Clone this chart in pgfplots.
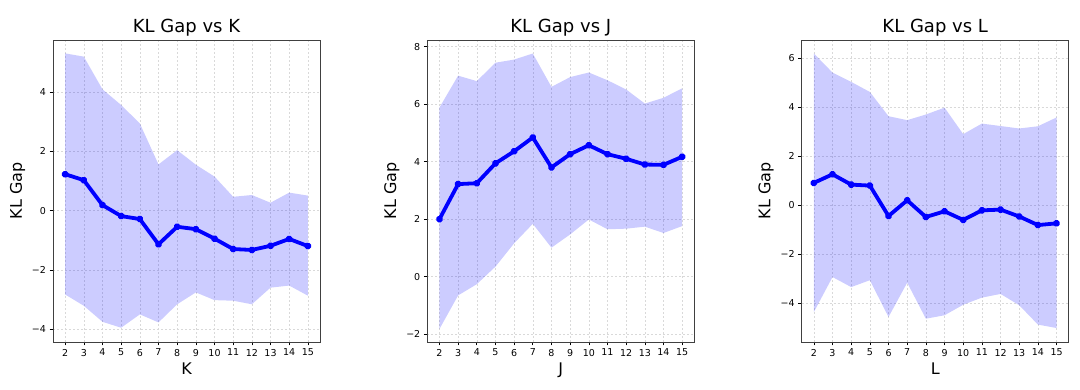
\documentclass[border=0pt]{standalone}
\usepackage{fontspec}
\setmainfont{DejaVu Sans}
\usepackage{pgfplots}
\usepackage{pgfplotstable}
\pgfplotsset{compat=1.18}
\usepgfplotslibrary{fillbetween}

\pgfplotstableread{
x mean up lo
2 1.23 5.30 -2.82
3 1.03 5.19 -3.20
4 0.19 4.09 -3.74
5 -0.18 3.56 -3.94
6 -0.28 2.94 -3.49
7 -1.13 1.56 -3.76
8 -0.54 2.04 -3.15
9 -0.62 1.55 -2.75
10 -0.94 1.15 -3.01
11 -1.29 0.47 -3.03
12 -1.32 0.53 -3.15
13 -1.18 0.27 -2.59
14 -0.95 0.61 -2.52
15 -1.19 0.51 -2.86
}\dataK

\pgfplotstableread{
x mean up lo
2 2.00 5.88 -1.82
3 3.22 6.99 -0.65
4 3.25 6.80 -0.26
5 3.94 7.44 0.35
6 4.36 7.55 1.16
7 4.84 7.76 1.84
8 3.80 6.60 1.01
9 4.26 6.94 1.47
10 4.57 7.10 1.99
11 4.26 6.83 1.65
12 4.10 6.51 1.67
13 3.90 6.02 1.74
14 3.89 6.22 1.52
15 4.17 6.55 1.76
}\dataJ

\pgfplotstableread{
x mean up lo
2 0.90 6.18 -4.37
3 1.25 5.40 -2.94
4 0.83 5.02 -3.35
5 0.79 4.61 -3.07
6 -0.45 3.62 -4.57
7 0.19 3.46 -3.17
8 -0.49 3.69 -4.64
9 -0.26 3.97 -4.50
10 -0.61 2.89 -4.07
11 -0.22 3.32 -3.78
12 -0.19 3.22 -3.63
13 -0.47 3.12 -4.09
14 -0.82 3.21 -4.88
15 -0.75 3.57 -5.02
}\dataL

\pgfplotsset{kl/.style={
  width=267pt, height=302pt, scale only axis,
  xmin=1.35, xmax=15.65, xtick={2,...,15},
  grid=major, grid style={dash pattern=on 2pt off 2pt, gray!30, line width=0.5pt},
  axis line style={gray!50!black, line width=0.8pt},
  tick align=outside, tick pos=left, major tick length=3.5pt,
  tick style={black, line width=0.6pt},
  ticklabel style={font=\fontsize{9.5}{11}\selectfont},
  label style={font=\fontsize{16}{18}\selectfont},
  title style={font=\fontsize{18}{21}\selectfont, yshift=-6pt},
  ylabel={KL Gap},
  /pgf/number format/assume math mode=true,
  anchor=south west,
}}

\newcommand{\band}[1]{%
  \addplot[name path=up, draw=none, forget plot] table[x=x,y=up] {#1};
  \addplot[name path=lo, draw=none, forget plot] table[x=x,y=lo] {#1};
  \addplot[blue, fill opacity=0.2, draw=none] fill between[of=up and lo];
  \addplot[blue, line width=3.8pt, mark=*, mark size=1.8pt, line join=round] table[x=x,y=mean] {#1};
}

\begin{document}
\begin{tikzpicture}
\begin{axis}[kl, at={(53pt,48pt)},
  ymin=-4.42, ymax=5.75, ytick={-4,-2,0,2,4},
  yticklabels={−4,−2,0,2,4},
  title={KL Gap vs K}, xlabel={K}]
\band{\dataK}
\end{axis}

\begin{axis}[kl, at={(427.3pt,48pt)},
  ymin=-2.27, ymax=8.23, ytick={-2,0,2,4,6,8},
  yticklabels={−2,0,2,4,6,8},
  title={KL Gap vs J}, xlabel={J}]
\band{\dataJ}
\end{axis}

\begin{axis}[kl, at={(801.7pt,48pt)},
  ymin=-5.59, ymax=6.73, ytick={-4,-2,0,2,4,6},
  yticklabels={−4,−2,0,2,4,6},
  title={KL Gap vs L}, xlabel={L}]
\band{\dataL}
\end{axis}
\path (0,0) rectangle (1080pt,390pt);
\end{tikzpicture}
\end{document}
